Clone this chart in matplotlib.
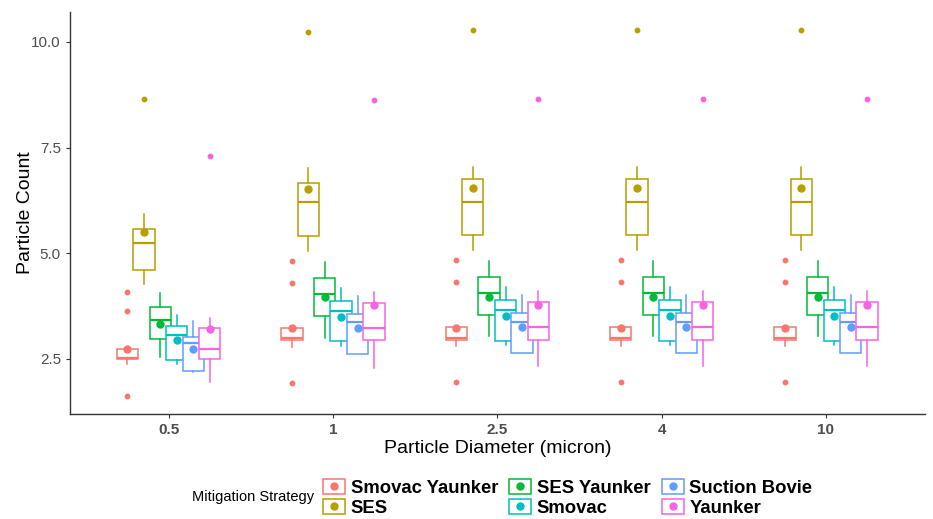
import matplotlib
matplotlib.use("Agg")
import matplotlib.pyplot as plt
from matplotlib.patches import Patch
from matplotlib.lines import Line2D

plt.rcParams['font.family'] = ['Liberation Sans', 'DejaVu Sans']

# categories and groups
diameters = ['0.5', '1', '2.5', '4', '10']
strategies = ['Smovac Yaunker', 'SES', 'SES Yaunker', 'Smovac', 'Suction Bovie', 'Yaunker']
colors = ['#F8766D', '#B79F00', '#00BA38', '#00BFC4', '#619CFF', '#F564E3']

# box statistics: one row per diameter, one value per strategy
whislo = [[2.37, 4.27, 2.55, 2.37, 2.19, 1.95],
          [2.77, 5.04, 3.00, 2.79, 2.61, 2.29],
          [2.79, 5.07, 3.03, 2.82, 2.63, 2.32],
          [2.79, 5.07, 3.03, 2.82, 2.63, 2.32],
          [2.79, 5.07, 3.03, 2.82, 2.63, 2.32]]
q1 = [[2.49, 4.60, 2.97, 2.48, 2.22, 2.49],
      [2.94, 5.40, 3.51, 2.93, 2.61, 2.95],
      [2.95, 5.43, 3.53, 2.93, 2.63, 2.95],
      [2.95, 5.43, 3.53, 2.93, 2.63, 2.95],
      [2.95, 5.43, 3.53, 2.93, 2.63, 2.95]]
med = [[2.52, 5.24, 3.42, 3.07, 2.86, 2.73],
       [3.00, 6.20, 4.02, 3.63, 3.36, 3.22],
       [2.99, 6.22, 4.05, 3.66, 3.37, 3.24],
       [2.99, 6.22, 4.05, 3.66, 3.37, 3.24],
       [2.99, 6.22, 4.05, 3.66, 3.37, 3.24]]
q3 = [[2.74, 5.56, 3.73, 3.27, 3.01, 3.23],
      [3.23, 6.66, 4.40, 3.86, 3.56, 3.82],
      [3.26, 6.75, 4.43, 3.88, 3.58, 3.84],
      [3.26, 6.75, 4.43, 3.88, 3.58, 3.84],
      [3.26, 6.75, 4.43, 3.88, 3.58, 3.84]]
whishi = [[2.74, 5.93, 4.05, 3.54, 3.39, 3.47],
          [3.23, 7.01, 4.79, 4.17, 3.99, 4.09],
          [3.26, 7.05, 4.82, 4.19, 4.01, 4.11],
          [3.26, 7.05, 4.82, 4.19, 4.01, 4.11],
          [3.26, 7.05, 4.82, 4.19, 4.01, 4.11]]
means = [[2.73, 5.50, 3.33, 2.94, 2.73, 3.20],
         [3.22, 6.52, 3.95, 3.48, 3.23, 3.78],
         [3.23, 6.55, 3.97, 3.51, 3.24, 3.78],
         [3.23, 6.55, 3.97, 3.51, 3.24, 3.78],
         [3.23, 6.55, 3.97, 3.51, 3.24, 3.78]]
outliers = [[[4.08, 3.62, 1.62], [8.66], [], [], [], [7.29]],
            [[4.81, 4.29, 1.93], [10.24], [], [], [], [8.62]],
            [[4.83, 4.31, 1.94], [10.28], [], [], [], [8.65]],
            [[4.83, 4.31, 1.94], [10.28], [], [], [], [8.65]],
            [[4.83, 4.31, 1.94], [10.28], [], [], [], [8.65]]]

fig = plt.figure(figsize=(9.33, 5.19), dpi=100)
ax = fig.add_axes([0.075, 0.2023, 0.916, 0.7746])

dodge = 0.1
width = 0.13
for i in range(len(diameters)):
    for k, col in enumerate(strategies):
        pos = i + 1 + (k - 2.5) * dodge
        st = dict(med=med[i][k], q1=q1[i][k], q3=q3[i][k],
                  whislo=whislo[i][k], whishi=whishi[i][k],
                  mean=means[i][k], fliers=outliers[i][k])
        c = colors[k]
        ax.bxp([st], positions=[pos], widths=width, patch_artist=True,
               showcaps=False, showmeans=True, manage_ticks=False,
               boxprops=dict(facecolor='white', edgecolor=c, linewidth=1.1),
               medianprops=dict(color=c, linewidth=1.6),
               whiskerprops=dict(color=c, linewidth=1.1),
               flierprops=dict(marker='o', markerfacecolor=c, markeredgecolor=c,
                               markersize=3.2),
               meanprops=dict(marker='o', markerfacecolor=c, markeredgecolor=c,
                              markersize=5),
               zorder=2 + k)

ax.set_xlim(0.4, 5.6)
ax.set_ylim(1.19, 10.71)
ax.set_xticks(range(1, len(diameters) + 1))
ax.set_xticklabels(diameters, fontweight='bold')
ax.set_yticks([2.5, 5.0, 7.5, 10.0])
ax.set_yticklabels(['2.5', '5.0', '7.5', '10.0'])
ax.tick_params(colors='#333333', labelcolor='#4D4D4D', labelsize=11, length=3)
for s in ['top', 'right']:
    ax.spines[s].set_visible(False)
for s in ['left', 'bottom']:
    ax.spines[s].set_color('#333333')
    ax.spines[s].set_linewidth(1.0)

ax.set_xlabel('Particle Diameter (micron)', fontsize=14, labelpad=2)
ax.set_ylabel('Particle Count', fontsize=14, labelpad=-2)

handles = []
for c in colors:
    handles.append((Patch(facecolor='white', edgecolor=c, linewidth=1.1),
                    Line2D([], [], color=c, marker='o', markersize=5, linestyle='none')))
fig.legend(handles, strategies, ncol=3, loc='center left',
           bbox_to_anchor=(0.346, 0.0405), frameon=False, borderpad=0,
           borderaxespad=0,
           prop=dict(weight='bold', size=13.3), handlelength=1.2, handleheight=0.9,
           handletextpad=0.3, columnspacing=0.6, labelspacing=0.1)
fig.text(0.206, 0.042, 'Mitigation Strategy', fontsize=10.5, va='center', ha='left')

fig.savefig('out.png', dpi=100)
